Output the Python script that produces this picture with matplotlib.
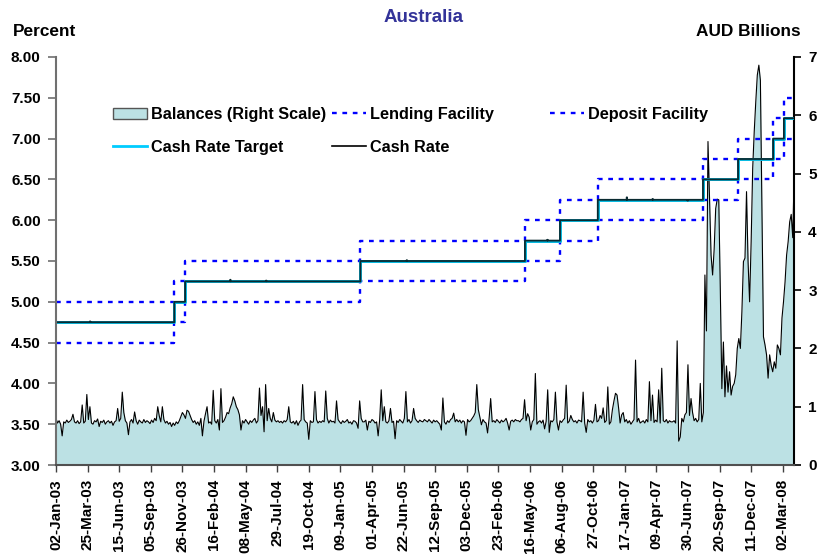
import numpy as np
import pandas as pd
import matplotlib
matplotlib.use('Agg')
import matplotlib.pyplot as plt
import matplotlib.dates as mdates
from matplotlib.lines import Line2D
from matplotlib.patches import Patch
from matplotlib.ticker import FormatStrFormatter

plt.rcParams['font.family'] = ['Liberation Sans', 'DejaVu Sans']
plt.rcParams['font.weight'] = 'bold'

# ---------------- data ----------------
start_date = '2003-01-02'
end_date = '2008-04-01'

# RBA cash rate target changes (percent)
target_dates = ['2003-01-02', '2003-11-05', '2003-12-03', '2005-03-02', '2006-05-03',
                '2006-08-02', '2006-11-08', '2007-08-08', '2007-11-07', '2008-02-06',
                '2008-03-05']
target_levels = [4.75, 5.00, 5.25, 5.50, 5.75, 6.00, 6.25, 6.50, 6.75, 7.00, 7.25]
corridor_width = 0.25

# occasional small deviations of the cash rate from target
cash_blip_dates = ['2003-03-31', '2004-03-29', '2004-06-30', '2005-06-30',
                   '2006-06-30', '2007-01-22', '2007-03-30', '2007-06-29']
cash_blip_values = [4.76, 5.27, 5.26, 5.51, 5.76, 6.28, 6.26, 6.24]

# Exchange settlement balances, AUD billions (one value every 4 days)
balance_rows = [
    [0.80,0.72,0.76,0.70,0.50,0.74,0.72,0.77,0.73,0.75,0.78,0.87,0.74,0.72,0.76,0.71,0.74,1.03,0.72,0.75],
    [1.21,0.78,1.00,0.72,0.70,0.76,0.74,0.79,0.66,0.75,0.73,0.77,0.70,0.74,0.76,0.72,0.75,0.68,0.74,0.76],
    [0.97,0.75,0.80,1.25,0.90,0.76,0.72,0.52,0.74,0.78,0.72,0.91,0.76,0.70,0.77,0.74,0.72,0.78,0.73,0.76],
    [0.74,0.71,0.77,0.73,0.80,0.76,1.00,0.84,0.74,1.00,0.78,0.72,0.75,0.70,0.73,0.66,0.72,0.68,0.74,0.71],
    [0.76,0.83,0.90,0.86,0.80,0.94,0.92,0.85,0.78,0.73,0.76,0.70,0.74,0.68,0.80,0.50,0.75,0.88,1.00,0.72],
    [0.74,0.70,1.28,0.76,0.72,0.78,0.60,1.31,0.73,0.76,0.82,0.90,0.88,0.98,1.05,1.17,1.10,1.00,0.95,0.86],
    [0.60,0.76,0.72,0.78,0.74,0.70,0.76,0.73,0.77,0.80,0.72,0.76,1.32,0.85,1.00,0.57,1.38,0.76,0.97,0.80],
    [0.74,0.90,0.77,0.74,0.76,0.73,0.75,0.72,0.76,0.74,0.78,1.00,0.74,0.72,0.75,0.70,0.76,0.68,0.74,0.77],
    [1.38,0.78,0.74,0.72,0.44,0.76,0.73,0.74,1.26,0.78,0.72,0.75,0.73,0.76,0.74,1.27,0.80,0.72,0.77,0.74],
    [0.75,0.72,1.10,0.78,0.74,0.71,0.76,0.73,0.75,0.78,0.72,0.74,0.70,0.76,0.75,0.72,0.63,1.10,0.80,0.74],
    [0.74,0.77,0.60,0.75,0.73,0.78,0.76,0.72,0.74,0.50,0.78,1.29,0.76,1.00,0.74,0.72,0.76,0.97,0.73,0.75],
    [0.45,0.76,0.73,0.78,0.75,0.72,0.80,1.26,0.74,0.78,0.72,0.76,0.97,0.80,0.76,0.73,0.77,0.75,0.74,0.78],
    [0.76,0.74,0.78,0.75,0.72,0.77,0.74,0.76,0.73,0.70,0.60,1.15,0.74,0.70,0.76,0.73,0.78,0.80,0.89,0.74],
    [0.78,0.74,0.77,0.72,0.76,0.74,0.51,0.78,0.74,0.76,0.80,0.84,0.90,1.38,0.95,0.82,0.69,0.78,0.74,0.72],
    [0.55,0.80,1.14,0.74,0.76,0.73,0.78,0.75,0.72,0.77,0.74,0.76,0.80,0.72,0.60,0.75,0.77,0.74,0.78,0.76],
    [0.76,0.74,0.78,0.80,1.12,0.76,0.88,0.82,0.60,0.74,0.78,1.57,0.70,0.74,0.76,0.72,0.77,0.62,0.75,1.29],
    [0.56,0.76,0.74,0.78,1.25,0.74,0.60,0.76,0.73,0.77,0.80,1.37,0.72,0.75,0.85,0.78,0.74,0.76,0.72,0.77],
    [0.76,0.74,1.25,0.72,0.56,0.78,0.74,0.76,0.72,0.77,1.04,0.74,0.76,0.85,0.80,0.98,0.73,0.76,1.34,0.70],
    [0.74,0.95,1.10,1.23,1.20,0.98,0.72,0.86,0.90,0.74,0.78,0.72,0.76,0.70,0.74,0.78,1.80,0.74,0.80,0.72],
    [0.74,0.76,0.72,0.78,0.74,1.43,0.76,1.20,0.73,0.77,0.74,1.29,0.72,1.66,0.76,0.74,0.78,0.72,0.76,0.74],
    [0.74,0.76,0.72,2.13,0.41,0.48,0.80,0.74,0.86,0.90,1.72,0.85,1.14,0.90,0.76,0.80,0.74,0.78,1.40,0.74],
    [0.90,3.26,2.30,5.55,4.58,3.60,3.26,3.70,4.40,4.56,4.55,3.00,1.31,2.11,1.17,1.70,1.25,1.60,1.20,1.35],
    [1.40,1.55,2.00,2.17,2.00,2.63,3.49,3.55,4.69,3.49,2.80,3.83,5.09,5.72,6.23,6.69,6.86,6.60,4.46,2.20],
    [2.06,1.89,1.49,1.89,1.71,1.60,1.77,1.66,2.06,2.00,1.89,2.52,2.80,3.14,3.60,3.83,4.17,4.30,3.90,5.10],
]
balances = [v for row in balance_rows for v in row]

left_ticks = [3.00, 3.50, 4.00, 4.50, 5.00, 5.50, 6.00, 6.50, 7.00, 7.50, 8.00]
right_ticks = [0, 1, 2, 3, 4, 5, 6, 7]

# ---------------- derived series ----------------
balance_dates = pd.date_range(start_date, periods=len(balances), freq='4D')
t_dates = pd.to_datetime(target_dates + [end_date])
t_levels = np.array(target_levels + [target_levels[-1]])

days = pd.date_range(start_date, end_date, freq='D')
idx = np.searchsorted(pd.to_datetime(target_dates).values, days.values, side='right') - 1
cash_rate = np.array(target_levels)[idx]
for d, v in zip(cash_blip_dates, cash_blip_values):
    cash_rate[days.get_loc(pd.Timestamp(d))] = v

tick_dates = pd.date_range(start_date, end_date, freq='82D')

# ---------------- figure ----------------
W, H = 818, 558
fig = plt.figure(figsize=(W / 100, H / 100), dpi=100)
ax = fig.add_axes([56 / W, 1 - 465 / H, (794.3 - 56) / W, (465 - 57) / H])
ax2 = ax.twinx()
ax.set_zorder(ax2.get_zorder() + 1)
ax.patch.set_visible(False)

fill_col = '#bce1e4'
ax2.fill_between(balance_dates, balances, 0, color=fill_col, lw=0)
ax2.plot(balance_dates, balances, color='black', lw=0.8)
ax2.set_ylim(0, 7)
ax2.set_yticks(right_ticks)

dash = (0, (2, 2.4))
ax.plot(t_dates, t_levels + corridor_width, drawstyle='steps-post', color='#0000ff', lw=1.7, ls=dash)
ax.plot(t_dates, t_levels - corridor_width, drawstyle='steps-post', color='#0000ff', lw=1.7, ls=dash)
ax.plot(t_dates, t_levels, drawstyle='steps-post', color='#00b8e0', lw=2.1)
ax.plot(days, cash_rate, drawstyle='steps-post', color='#0a2a30', lw=1.3)

ax.set_ylim(3, 8)
ax.set_yticks(left_ticks)
ax.yaxis.set_major_formatter(FormatStrFormatter('%.2f'))
ax.set_xlim(pd.Timestamp(start_date), pd.Timestamp(end_date))
ax.set_xticks(tick_dates)
ax.xaxis.set_major_formatter(mdates.DateFormatter('%d-%b-%y'))

for lab in ax.get_xticklabels():
    lab.set_rotation(90)

ax.tick_params(axis='y', direction='out', length=6, width=1.2, color='#707070', pad=5, labelsize=11)
ax.tick_params(axis='x', direction='out', length=5, width=1.0, color='#404040', pad=5, labelsize=11)
ax2.tick_params(axis='y', direction='out', length=5, width=1.2, color='black', pad=5, labelsize=11)

for s in ['top', 'right']:
    ax.spines[s].set_visible(False)
ax.spines['left'].set_color('#707070')
ax.spines['left'].set_linewidth(1.5)
ax.spines['bottom'].set_color('#505050')
ax.spines['bottom'].set_linewidth(1.5)
for s in ['top', 'left', 'bottom']:
    ax2.spines[s].set_visible(False)
ax2.spines['right'].set_color('black')
ax2.spines['right'].set_linewidth(1.5)

fig.text(424 / W, 1 - 17 / H, 'Australia', color='#333399', ha='center', va='center',
         fontsize=13.5, fontweight='bold')
fig.text(13 / W, 1 - 32 / H, 'Percent', ha='left', va='center', fontsize=12.4, fontweight='bold')
fig.text(801 / W, 1 - 32 / H, 'AUD Billions', ha='right', va='center', fontsize=12.4, fontweight='bold')

# ---------------- legends ----------------
lfs = 11.7
common = dict(loc='upper left', bbox_transform=fig.transFigure, frameon=False, borderpad=0,
              borderaxespad=0, handlelength=2.1, handletextpad=0.25, labelspacing=1.1,
              prop={'weight': 'bold', 'size': lfs})
h_bal = Patch(facecolor=fill_col, edgecolor='#555555', lw=1.0)
h_tgt = Line2D([], [], color='#00ccff', lw=2)
h_lend = Line2D([], [], color='#0000ff', lw=1.7, ls=dash)
h_cash = Line2D([], [], color='black', lw=1.2)
h_dep = Line2D([], [], color='#0000ff', lw=1.7, ls=dash)

anchor_y = 1 - 107 / H
lg1 = ax.legend([h_bal, h_tgt], ['Balances (Right Scale)', 'Cash Rate Target'],
                bbox_to_anchor=(113 / W, anchor_y), **common)
ax.add_artist(lg1)
lg2 = ax.legend([h_lend, h_cash], ['Lending Facility', 'Cash Rate'],
                bbox_to_anchor=(332 / W, anchor_y), **common)
ax.add_artist(lg2)
lg3 = ax.legend([h_dep], ['Deposit Facility'],
                bbox_to_anchor=(550 / W, anchor_y), **common)

fig.savefig('out.png', dpi=100)
